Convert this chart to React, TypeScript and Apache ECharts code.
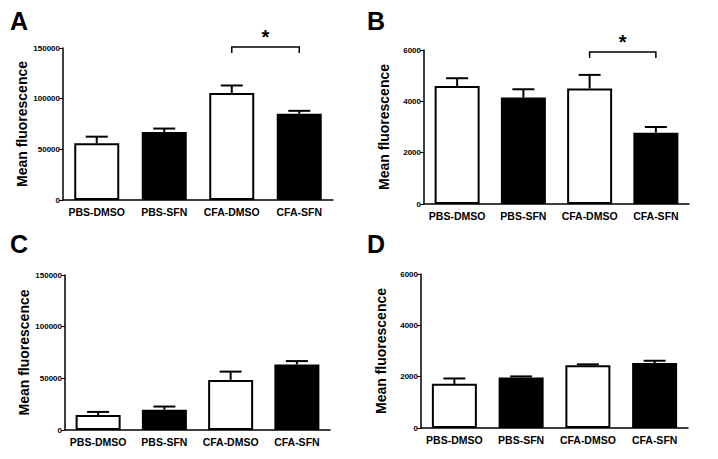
import React, { useEffect, useRef } from "react";
import * as echarts from "echarts";

const categories = ["PBS-DMSO", "PBS-SFN", "CFA-DMSO", "CFA-SFN"];
const barFills = ["#ffffff", "#000000", "#ffffff", "#000000"];
const panelLetters = ["A", "B", "C", "D"];
const yTitle = "Mean fluorescence";
const sigMark = "*";

const meansA = [56000, 67000, 105500, 85000];
const semA = [6500, 3500, 7500, 3000];
const meansB = [4600, 4150, 4500, 2780];
const semB = [300, 320, 530, 220];
const meansC = [14500, 19500, 48500, 63500];
const semC = [3000, 3200, 8000, 3200];
const meansD = [1720, 1970, 2440, 2530];
const semD = [210, 40, 40, 90];

const yMaxes = [150000, 6000, 150000, 6000];
const yIntervals = [50000, 2000, 50000, 2000];

// significance brackets: [fromIndex, level, toIndex]
const sigA = [[2, 151000, 3]];
const sigB = [[2, 5920, 3]];
const sigC: number[][] = [];
const sigD: number[][] = [];

const panels = [
  { means: meansA, sem: semA, sig: sigA },
  { means: meansB, sem: semB, sig: sigB },
  { means: meansC, sem: semC, sig: sigC },
  { means: meansD, sem: semD, sig: sigD },
];

const FONT = "'Liberation Sans', Arial, sans-serif";

const grids = [
  { left: 63, top: 48, width: 270, height: 152 },
  { left: 424, top: 50, width: 265, height: 154 },
  { left: 65, top: 275, width: 265, height: 155 },
  { left: 421, top: 274, width: 267, height: 154 },
];

const letterPos = [
  { left: 10, top: 8 },
  { left: 367, top: 8 },
  { left: 10, top: 231 },
  { left: 367, top: 231 },
];

export default function App() {
  const ref = useRef<HTMLDivElement>(null);
  useEffect(() => {
    if (!ref.current) return;
    const chart = echarts.init(ref.current, null, { renderer: "svg" });

    const xAxis = grids.map((_, i) => ({
      type: "category",
      gridIndex: i,
      data: categories,
      axisLine: { show: true, lineStyle: { color: "#000", width: 1.5 } },
      axisTick: { show: false },
      axisLabel: {
        interval: 0,
        color: "#000",
        fontSize: 10.5,
        fontWeight: "bold",
        fontFamily: FONT,
        margin: 6,
      },
    }));

    const yAxis = grids.map((_, i) => ({
      type: "value",
      gridIndex: i,
      min: 0,
      max: yMaxes[i],
      interval: yIntervals[i],
      name: yTitle,
      nameLocation: "middle",
      nameRotate: 90,
      nameGap: 33,
      nameTextStyle: {
        color: "#000",
        fontSize: 14,
        fontWeight: "bold",
        fontFamily: FONT,
      },
      splitLine: { show: false },
      axisLine: { show: true, lineStyle: { color: "#000", width: 1.5 } },
      axisTick: { show: true, length: 4, lineStyle: { color: "#000", width: 1 } },
      axisLabel: {
        color: "#000",
        fontSize: 8,
        fontWeight: "bold",
        fontFamily: FONT,
        margin: 3,
        formatter: (v: number) => String(v),
      },
    }));

    const series: any[] = [];
    panels.forEach((p, i) => {
      series.push({
        type: "bar",
        xAxisIndex: i,
        yAxisIndex: i,
        barWidth: 45,
        data: p.means.map((v, k) => ({
          value: v,
          itemStyle: { color: barFills[k], borderColor: "#000", borderWidth: 2 },
        })),
        z: 2,
      });
      series.push({
        type: "custom",
        xAxisIndex: i,
        yAxisIndex: i,
        z: 3,
        clip: false,
        data: p.means.map((v, k) => [k, v, p.sem[k]]),
        renderItem: (params: any, api: any) => {
          const x = api.value(0);
          const m = api.value(1);
          const e = api.value(2);
          const p0 = api.coord([x, m]);
          const p1 = api.coord([x, m + e]);
          const half = 11;
          return {
            type: "group",
            children: [
              {
                type: "line",
                shape: { x1: p0[0], y1: p0[1], x2: p1[0], y2: p1[1] },
                style: { stroke: "#000", lineWidth: 2 },
              },
              {
                type: "line",
                shape: { x1: p1[0] - half, y1: p1[1], x2: p1[0] + half, y2: p1[1] },
                style: { stroke: "#000", lineWidth: 2 },
              },
            ],
          };
        },
      });
      if (p.sig.length) {
        series.push({
          type: "custom",
          xAxisIndex: i,
          yAxisIndex: i,
          z: 3,
          clip: false,
          data: p.sig,
          renderItem: (params: any, api: any) => {
            const a = api.coord([api.value(0), api.value(1)]);
            const b = api.coord([api.value(2), api.value(1)]);
            const drop = 6;
            return {
              type: "group",
              children: [
                {
                  type: "polyline",
                  shape: {
                    points: [
                      [a[0], a[1] + drop],
                      [a[0], a[1]],
                      [b[0], a[1]],
                      [b[0], a[1] + drop],
                    ],
                  },
                  style: { stroke: "#000", lineWidth: 1.5, fill: "none" },
                },
                {
                  type: "text",
                  x: (a[0] + b[0]) / 2,
                  y: a[1] - 10,
                  style: {
                    text: sigMark,
                    fill: "#000",
                    fontSize: 20,
                    fontWeight: "bold",
                    fontFamily: FONT,
                    align: "center",
                    verticalAlign: "middle",
                  },
                },
              ],
            };
          },
        });
      }
    });

    chart.setOption({
      animation: false,
      backgroundColor: "#ffffff",
      grid: grids,
      xAxis,
      yAxis,
      series,
      graphic: panelLetters.map((t, i) => ({
        type: "text",
        left: letterPos[i].left,
        top: letterPos[i].top,
        style: {
          text: t,
          fill: "#000",
          fontSize: 25,
          fontWeight: "bold",
          fontFamily: FONT,
        },
      })),
    });
    return () => chart.dispose();
  }, []);
  return (
    <div
      ref={ref}
      style={{ position: "absolute", left: 0, top: 0, width: 718, height: 459 }}
    />
  );
}
